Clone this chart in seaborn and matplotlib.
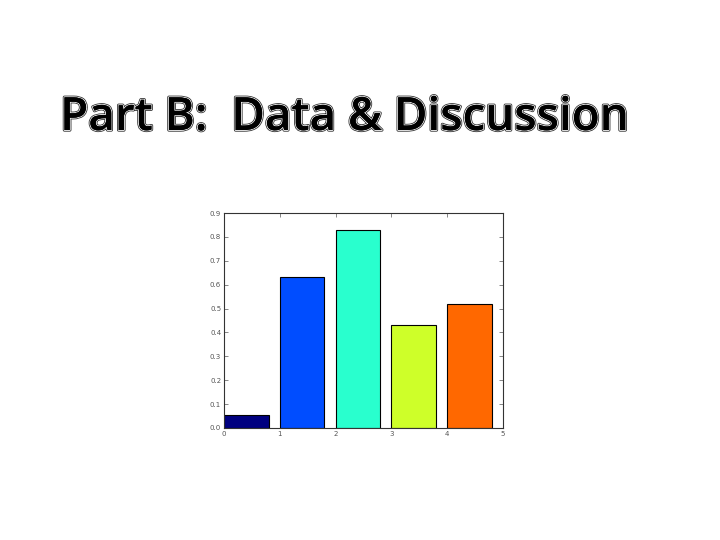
import matplotlib
matplotlib.use("Agg")
import matplotlib.pyplot as plt
import matplotlib.patheffects as pe
import seaborn as sns
import pandas as pd
import numpy as np

categories = ["0", "1", "2", "3", "4"]
values = [0.054, 0.632, 0.829, 0.431, 0.520]
xtick_labels = ["0", "1", "2", "3", "4", "5"]
ytick_labels = ["0.0", "0.1", "0.2", "0.3", "0.4", "0.5", "0.6", "0.7", "0.8", "0.9"]
title_text = "Part B:  Data & Discussion"

sns.set_style("white")
plt.rcParams["font.family"] = ["DejaVu Sans"]

fig = plt.figure(figsize=(7.2, 5.4), dpi=100)
ax = fig.add_axes([224/720, 1-428/540, (503-224)/720, (428-213)/540])

df = pd.DataFrame({"cat": categories, "val": values})
cmap = matplotlib.colormaps["jet"]
colors = [cmap(i / len(categories)) for i in range(len(categories))]
sns.barplot(data=df, x="cat", y="val", hue="cat", palette=colors, legend=False,
            width=0.8, edgecolor="black", linewidth=0.8, saturation=1, ax=ax)

ax.set_xlim(-0.4, 4.6)
ax.set_ylim(0, 0.9)
ax.set_xticks(np.arange(len(xtick_labels)) - 0.4)
ax.set_xticklabels(xtick_labels)
ax.set_yticks(np.arange(len(ytick_labels)) * 0.1)
ax.set_yticklabels(ytick_labels)
ax.set_xlabel("")
ax.set_ylabel("")
for s in ax.spines.values():
    s.set_visible(True)
    s.set_color("#333333")
    s.set_linewidth(0.8)
ax.tick_params(direction="in", length=3, width=0.5, labelsize=5, colors="#555555",
               top=True, right=True, bottom=True, left=True, pad=2)

fig.text(0.0835, 1 - 130/540, title_text, fontsize=33, fontweight="semibold",
         family=["Open Sans", "DejaVu Sans"], color="black", ha="left", va="baseline",
         path_effects=[pe.withStroke(linewidth=2.4, foreground="#333333"),
                       pe.withStroke(linewidth=1.2, foreground="white"),
                       pe.Normal()])

fig.savefig("out.png", dpi=100, facecolor="white")
